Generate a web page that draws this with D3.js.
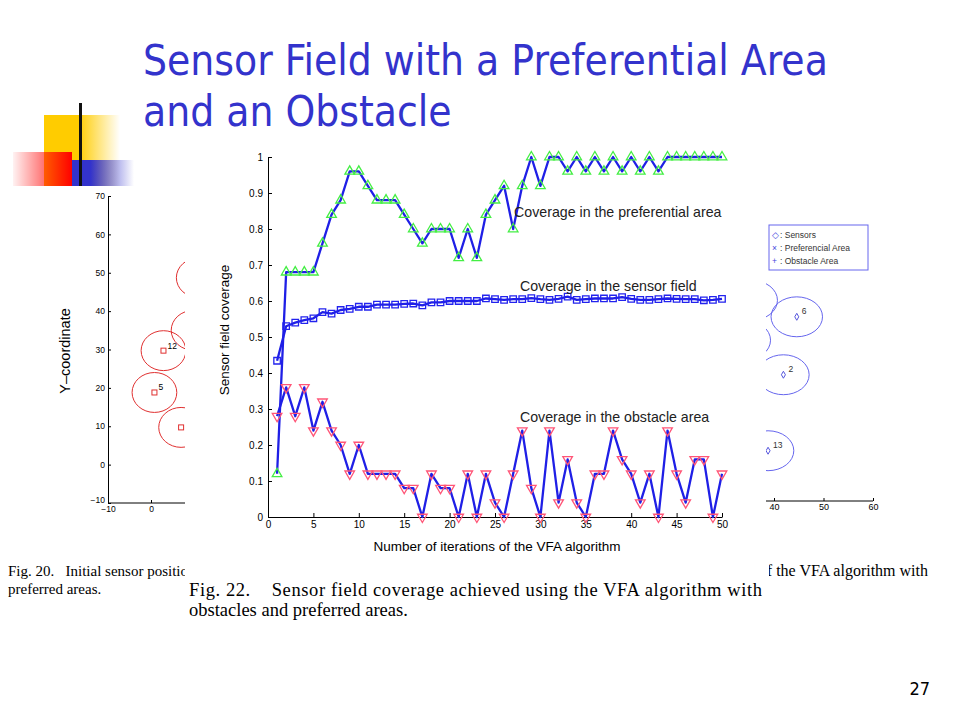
<!DOCTYPE html>
<html>
<head>
<meta charset="utf-8">
<script src="https://cdn.jsdelivr.net/npm/d3@7"></script>
<style>
  body { margin: 0; background: #fff; }
  svg { display: block; }
</style>
</head>
<body>
<div id="slide"></div>
<script>
// main chart data (Fig. 22)
const iterations = [1, 2, 3, 4, 5, 6, 7, 8, 9, 10, 11, 12, 13, 14, 15, 16, 17, 18, 19, 20,
  21, 22, 23, 24, 25, 26, 27, 28, 29, 30, 31, 32, 33, 34, 35, 36, 37, 38, 39, 40,
  41, 42, 43, 44, 45, 46, 47, 48, 49, 50]

const preferential = [0.12, 0.68, 0.68, 0.68, 0.68, 0.76, 0.84, 0.88, 0.96, 0.96,
  0.92, 0.88, 0.88, 0.88, 0.84, 0.80, 0.76, 0.80, 0.80, 0.80,
  0.72, 0.80, 0.72, 0.84, 0.88, 0.92, 0.80, 0.92, 1.00, 0.92,
  1.00, 1.00, 0.96, 1.00, 0.96, 1.00, 0.96, 1.00, 0.96, 1.00,
  0.96, 1.00, 0.96, 1.00, 1.00, 1.00, 1.00, 1.00, 1.00, 1.00]

const sensorField = [0.434, 0.53, 0.54, 0.547, 0.552, 0.569, 0.565, 0.575, 0.578, 0.584,
  0.584, 0.59, 0.59, 0.59, 0.592, 0.593, 0.588, 0.596, 0.596, 0.60,
  0.60, 0.60, 0.60, 0.607, 0.605, 0.603, 0.605, 0.605, 0.608, 0.605,
  0.603, 0.606, 0.612, 0.603, 0.605, 0.607, 0.607, 0.607, 0.611, 0.606,
  0.603, 0.603, 0.605, 0.607, 0.606, 0.605, 0.605, 0.602, 0.603, 0.606]

const obstacle = [0.28, 0.36, 0.28, 0.36, 0.24, 0.32, 0.24, 0.20, 0.12, 0.20,
  0.12, 0.12, 0.12, 0.12, 0.08, 0.08, 0.00, 0.12, 0.08, 0.08,
  0.00, 0.12, 0.00, 0.12, 0.04, 0.00, 0.12, 0.24, 0.08, 0.00,
  0.24, 0.04, 0.16, 0.04, 0.00, 0.12, 0.12, 0.24, 0.16, 0.12,
  0.04, 0.12, 0.00, 0.24, 0.12, 0.04, 0.16, 0.16, 0.00, 0.12]

const yTicks = [0, 0.1, 0.2, 0.3, 0.4, 0.5, 0.6, 0.7, 0.8, 0.9, 1]
const xTicks = [0, 5, 10, 15, 20, 25, 30, 35, 40, 45, 50]

// annotations: [text, iteration, coverage]
const notes = [
  ['Coverage in the preferential area', 27.1, 0.834],
  ['Coverage in the sensor field', 27.75, 0.628],
  ['Coverage in the obstacle area', 27.75, 0.264]
]

// background figure on the left (Fig. 20), mostly hidden
const leftX = [0.8, 2.9, 7.0, 11.1, 9.9]
const leftY = [18.8, 29.7, 9.7, 48.7, 35.0]
const leftLabels = ['5', '12', '', '', '']
const leftYTicks = [-10, 0, 10, 20, 30, 40, 50, 60, 70]
const leftXTicks = [-10, 0, 10]

// background figure on the right, mostly hidden
const rightX = [44.6, 41.9, 38.8, 35.5, 34.1]
const rightY = [38.0, 22.9, 3.1, 42.3, 31.9]
const rightLabels = ['6', '2', '13', '', '']
const rightXTicks = [40, 50, 60]
const legendItems = [['\u25C7', 'Sensors'], ['\u00D7', 'Preferencial Area'], ['+', 'Obstacle Area']]

const sensorRadius = 5.2

const svg = d3
  .select('#slide')
  .append('svg')
  .attr('width', 960)
  .attr('height', 720)

svg.append('rect').attr('width', 960).attr('height', 720).attr('fill', '#fff')

const defs = svg.append('defs')

function grad(id, stops) {
  const g = defs.append('linearGradient').attr('id', id)
  stops.forEach(s => {
    g.append('stop')
      .attr('offset', s[0])
      .attr('stop-color', s[1])
      .attr('stop-opacity', s[2])
  })
}
grad('gYellow', [['0%', '#ffcc00', 1], ['45%', '#ffcc00', 1], ['100%', '#ffcc00', 0]])
grad('gRed', [['0%', '#ff0000', 0.05], ['100%', '#ff0000', 1]])
grad('gBlue', [['0%', '#3333cc', 1], ['30%', '#3333cc', 1], ['100%', '#3333cc', 0]])

defs.append('clipPath').attr('id', 'clipLeft')
  .append('rect').attr('x', 0).attr('y', 0).attr('width', 185).attr('height', 720)
defs.append('clipPath').attr('id', 'clipRight')
  .append('rect').attr('x', 766).attr('y', 0).attr('width', 194).attr('height', 720)
defs.append('clipPath').attr('id', 'clipRightCaption')
  .append('rect').attr('x', 769).attr('y', 0).attr('width', 191).attr('height', 720)

// slide decoration
svg.append('rect').attr('x', 44).attr('y', 115).attr('width', 76).attr('height', 71).attr('fill', 'url(#gYellow)')
svg.append('rect').attr('x', 13).attr('y', 152).attr('width', 59).attr('height', 34).attr('fill', 'url(#gRed)')
svg.append('rect').attr('x', 72).attr('y', 160).attr('width', 62).attr('height', 26).attr('fill', 'url(#gBlue)')
svg.append('rect').attr('x', 79).attr('y', 103).attr('width', 3).attr('height', 83).attr('fill', '#111')

// title
const titleFont = 'DejaVu Sans Condensed, DejaVu Sans, sans-serif'
const t1 = svg.append('text')
  .attr('x', 143).attr('y', 75)
  .attr('font-family', titleFont)
  .attr('font-size', 40)
  .attr('fill', '#3333cc')
  .text('Sensor Field with a Preferential Area')
const fitSize = 40 * 685 / t1.node().getComputedTextLength()
t1.attr('font-size', fitSize)
svg.append('text')
  .attr('x', 143).attr('y', 126)
  .attr('font-family', titleFont)
  .attr('font-size', fitSize)
  .attr('fill', '#3333cc')
  .text('and an Obstacle')

svg.append('text')
  .attr('x', 930).attr('y', 695)
  .attr('text-anchor', 'end')
  .attr('font-family', titleFont)
  .attr('font-size', 18)
  .attr('fill', '#000')
  .text('27')

const sans = 'Liberation Sans, Arial, sans-serif'
const serif = 'Liberation Serif, Times New Roman, serif'

// ---- left background figure
const left = svg.append('g').attr('clip-path', 'url(#clipLeft)')
const lx = d3.scaleLinear().domain([-10, 0]).range([108, 151])
const ly = d3.scaleLinear().domain([-10, 70]).range([503, 196])

left.append('g')
  .attr('transform', 'translate(108,0)')
  .call(d3.axisLeft(ly).tickValues(leftYTicks).tickSize(-3).tickSizeOuter(0).tickPadding(3)
    .tickFormat(d => (d < 0 ? '\u2212' : '') + Math.abs(d)))
  .call(g => g.selectAll('text').attr('font-size', 8.5).attr('font-family', sans))
  .call(g => g.selectAll('.tick').filter(d => d === -10).select('text').attr('dy', '-0.05em'))
left.append('g')
  .attr('transform', 'translate(0,503)')
  .call(d3.axisBottom(lx).tickValues(leftXTicks).tickSize(-3).tickSizeOuter(0).tickPadding(3)
    .tickFormat(d => (d < 0 ? '\u2212' : '') + Math.abs(d)))
  .call(g => g.select('.domain').attr('d', 'M108,0H400'))
  .call(g => g.selectAll('text').attr('font-size', 8.5).attr('font-family', sans))

left.append('text')
  .attr('transform', 'translate(70,351) rotate(-90)')
  .attr('text-anchor', 'middle')
  .attr('font-family', sans)
  .attr('font-size', 14.5)
  .text('Y\u2013coordinate')

const kx = lx(1) - lx(0)
const ky = ly(0) - ly(1)
left.selectAll('.lcirc')
  .data(leftX)
  .join('ellipse')
  .attr('cx', d => lx(d))
  .attr('cy', (d, i) => ly(leftY[i]))
  .attr('rx', sensorRadius * kx)
  .attr('ry', sensorRadius * ky)
  .attr('fill', 'none')
  .attr('stroke', '#e03030')
  .attr('stroke-width', 1)
left.selectAll('.lsq')
  .data(leftX)
  .join('rect')
  .attr('x', d => lx(d) - 2.5)
  .attr('y', (d, i) => ly(leftY[i]) - 2.5)
  .attr('width', 5).attr('height', 5)
  .attr('fill', 'none')
  .attr('stroke', '#e03030')
left.selectAll('.llab')
  .data(leftX)
  .join('text')
  .attr('x', d => lx(d) + 4)
  .attr('y', (d, i) => ly(leftY[i]) - 2)
  .attr('font-family', sans)
  .attr('font-size', 8.5)
  .text((d, i) => leftLabels[i])

left.append('text').attr('x', 8).attr('y', 576)
  .attr('font-family', serif).attr('font-size', 15)
  .attr('xml:space', 'preserve')
  .text('Fig. 20.   Initial sensor positions with obstacles and')
left.append('text').attr('x', 8).attr('y', 594)
  .attr('font-family', serif).attr('font-size', 15)
  .text('preferred areas.')

// ---- right background figure
const right = svg.append('g').attr('clip-path', 'url(#clipRight)')
const rx = d3.scaleLinear().domain([40, 60]).range([774, 873])
const ry = d3.scaleLinear().domain([-10, 70]).range([501, 194])
right.append('g')
  .attr('transform', 'translate(0,501)')
  .call(d3.axisBottom(rx).tickValues(rightXTicks).tickSize(-3).tickSizeOuter(0).tickPadding(3))
  .call(g => g.select('.domain').attr('d', 'M700,0H873'))
  .call(g => g.selectAll('text').attr('font-size', 9).attr('font-family', sans))

const rkx = rx(1) - rx(0)
const rky = ry(0) - ry(1)
right.selectAll('.rcirc')
  .data(rightX)
  .join('ellipse')
  .attr('cx', d => rx(d))
  .attr('cy', (d, i) => ry(rightY[i]))
  .attr('rx', sensorRadius * rkx)
  .attr('ry', sensorRadius * rky)
  .attr('fill', 'none')
  .attr('stroke', '#6666ee')
  .attr('stroke-width', 1)
right.selectAll('.rdia')
  .data(rightX)
  .join('path')
  .attr('d', d3.symbol(d3.symbolDiamond, 14))
  .attr('transform', (d, i) => `translate(${rx(d)},${ry(rightY[i])})`)
  .attr('fill', 'none')
  .attr('stroke', '#5555dd')
right.selectAll('.rlab')
  .data(rightX)
  .join('text')
  .attr('x', d => rx(d) + 5)
  .attr('y', (d, i) => ry(rightY[i]) - 3)
  .attr('font-family', sans)
  .attr('font-size', 8.5)
  .attr('fill', '#333')
  .text((d, i) => rightLabels[i])

const legend = right.append('g').attr('transform', 'translate(769,225)')
legend.append('rect').attr('width', 99).attr('height', 45)
  .attr('fill', '#fff').attr('stroke', '#6666ee')
legendItems.forEach((item, i) => {
  legend.append('text').attr('x', 3).attr('y', 13 + i * 13)
    .attr('font-family', sans).attr('font-size', 8.5).attr('fill', '#4444dd')
    .text(item[0])
  legend.append('text').attr('x', 11).attr('y', 13 + i * 13)
    .attr('font-family', sans).attr('font-size', 8.5).attr('fill', '#333')
    .text(': ' + item[1])
})

svg.append('g').attr('clip-path', 'url(#clipRightCaption)')
  .append('text').attr('x', 928).attr('y', 576)
  .attr('text-anchor', 'end')
  .attr('font-family', serif).attr('font-size', 16)
  .text('of the VFA algorithm with')

// ---- main chart (Fig. 22)
const x = d3.scaleLinear().domain([0, 50]).range([268, 722])
const y = d3.scaleLinear().domain([0, 1]).range([517, 157])

const chart = svg.append('g')

chart.append('g')
  .attr('transform', 'translate(268,0)')
  .call(d3.axisLeft(y).tickValues(yTicks).tickSize(-4).tickSizeOuter(0).tickPadding(5)
    .tickFormat(d => (d === 0 || d === 1) ? String(d) : d3.format('.1f')(d)))
  .call(g => g.selectAll('text').attr('font-size', 10).attr('font-family', sans))

chart.append('g')
  .attr('transform', 'translate(0,517)')
  .call(d3.axisBottom(x).tickValues(xTicks).tickSize(-4).tickSizeOuter(0).tickPadding(4))
  .call(g => g.selectAll('text').attr('font-size', 10).attr('font-family', sans))

chart.append('text')
  .attr('transform', 'translate(229,330) rotate(-90)')
  .attr('text-anchor', 'middle')
  .attr('font-family', sans)
  .attr('font-size', 13.5)
  .text('Sensor field coverage')

chart.append('text')
  .attr('x', 497).attr('y', 551)
  .attr('text-anchor', 'middle')
  .attr('font-family', sans)
  .attr('font-size', 13.5)
  .text('Number of iterations of the VFA algorithm')

const line = d3.line()
  .x((d, i) => x(iterations[i]))
  .y(d => y(d))

const series = [
  { values: preferential, marker: d3.symbol(d3.symbolTriangle, 40)(), rot: 0, color: '#44ee44' },
  { values: sensorField, marker: d3.symbol(d3.symbolSquare, 42)(), rot: 0, color: '#2222ee' },
  { values: obstacle, marker: d3.symbol(d3.symbolTriangle, 40)(), rot: 180, color: '#ff5577' }
]

series.forEach(s => {
  chart.append('path')
    .datum(s.values)
    .attr('d', line)
    .attr('fill', 'none')
    .attr('stroke', '#1f1fe6')
    .attr('stroke-width', 2.3)
    .attr('stroke-linejoin', 'round')

  chart.append('g')
    .selectAll('path')
    .data(s.values)
    .join('path')
    .attr('d', s.marker)
    .attr('transform', (d, i) => `translate(${x(iterations[i])},${y(d)}) rotate(${s.rot})`)
    .attr('fill', 'none')
    .attr('stroke', s.color)
    .attr('stroke-width', 1.3)
})

chart.selectAll('.note')
  .data(notes)
  .join('text')
  .attr('x', d => x(d[1]))
  .attr('y', d => y(d[2]))
  .attr('font-family', sans)
  .attr('font-size', 14.2)
  .attr('fill', '#222')
  .text(d => d[0])

// caption of Fig. 22
chart.append('text')
  .attr('x', 189).attr('y', 596)
  .attr('font-family', serif).attr('font-size', 18.5)
  .attr('xml:space', 'preserve')
  .attr('textLength', 573).attr('lengthAdjust', 'spacing')
  .text('Fig. 22.    Sensor field coverage achieved using the VFA algorithm with')
chart.append('text')
  .attr('x', 189).attr('y', 616)
  .attr('font-family', serif).attr('font-size', 18.5)
  .text('obstacles and preferred areas.')
</script>
</body>
</html>
